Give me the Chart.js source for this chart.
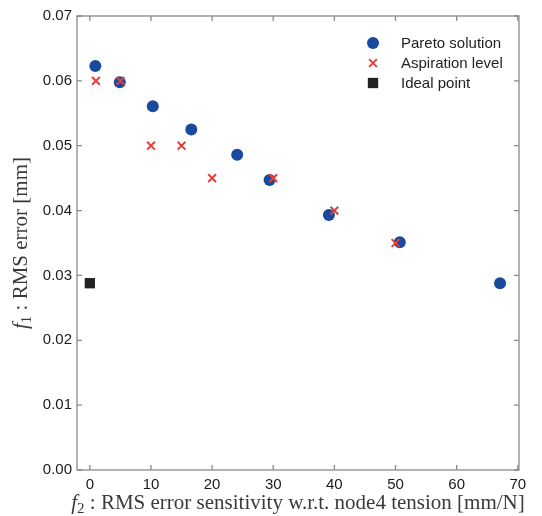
<!DOCTYPE html>
<html>
<head>
<meta charset="utf-8">
<script src="https://cdn.jsdelivr.net/npm/chart.js@4.4.1/dist/chart.umd.min.js"></script>
<style>
    html, body { margin: 0; padding: 0; background: #fff; }
    #wrap { width: 542px; height: 516px; }
</style>
</head>
<body>
<div id="wrap"><canvas id="pareto-chart" width="542" height="516"></canvas></div>
<script>
// --- Data ---
const paretoX = [0.9, 4.9, 10.3, 16.6, 24.1, 29.4, 39.1, 50.7, 67.1];
const paretoY = [0.0623, 0.0598, 0.0561, 0.0525, 0.0486, 0.0447, 0.0393, 0.0351, 0.0288];
const aspirationX = [1, 5, 10, 15, 20, 30, 40, 50];
const aspirationY = [0.060, 0.060, 0.050, 0.050, 0.045, 0.045, 0.040, 0.035];
const idealX = [0];
const idealY = [0.0288];
const xTicks = [0, 10, 20, 30, 40, 50, 60, 70];
const yTicks = [0, 0.01, 0.02, 0.03, 0.04, 0.05, 0.06, 0.07];
const seriesLabels = ['Pareto solution', 'Aspiration level', 'Ideal point'];

const toPoints = (xs, ys) => xs.map((x, i) => ({ x: x, y: ys[i] }));

const AXIS_COLOR = '#8a8a8a';
const SERIF = '"Liberation Serif", "DejaVu Serif", serif';
const SANS = '"Liberation Sans", Arial, sans-serif';

// --- Draws a label made of mixed segments (italic f, subscript, plain) centred at 0,0 ---
function drawMixed(ctx, segments, size) {
    const fonts = segments.map(s => (s.italic ? 'italic ' : '') + Math.round(size * (s.sub ? 0.7 : 1)) + 'px ' + SERIF);
    let total = 0;
    const widths = segments.map((s, i) => { ctx.font = fonts[i]; const w = ctx.measureText(s.text).width; total += w; return w; });
    let x = -total / 2;
    ctx.textBaseline = 'middle';
    ctx.textAlign = 'left';
    segments.forEach((s, i) => {
        ctx.font = fonts[i];
        ctx.fillText(s.text, x, s.sub ? size * 0.3 : 0);
        x += widths[i];
    });
}

// --- Frame, inward ticks, axis titles and legend ---
const framePlugin = {
    id: 'frame',
    afterDraw(chart) {
        const ctx = chart.ctx;
        const a = chart.chartArea;
        const xs = chart.scales.x, ys = chart.scales.y;
        ctx.save();
        ctx.strokeStyle = AXIS_COLOR;
        ctx.lineWidth = 1.3;
        ctx.strokeRect(a.left, a.top, a.right - a.left, a.bottom - a.top);
        ctx.beginPath();
        xTicks.forEach(v => {
            const px = xs.getPixelForValue(v);
            ctx.moveTo(px, a.bottom); ctx.lineTo(px, a.bottom - 5);
            ctx.moveTo(px, a.top); ctx.lineTo(px, a.top + 5);
        });
        yTicks.forEach(v => {
            const py = ys.getPixelForValue(v);
            ctx.moveTo(a.left, py); ctx.lineTo(a.left + 5, py);
            ctx.moveTo(a.right, py); ctx.lineTo(a.right - 5, py);
        });
        ctx.stroke();

        // axis titles
        ctx.fillStyle = '#3a3a3a';
        ctx.save();
        ctx.translate((a.left + a.right) / 2, 503);
        drawMixed(ctx, [
            { text: 'f', italic: true }, { text: '2', sub: true },
            { text: ' : RMS error sensitivity w.r.t. node4 tension [mm/N]' }
        ], 21);
        ctx.restore();
        ctx.save();
        ctx.translate(21, (a.top + a.bottom) / 2);
        ctx.rotate(-Math.PI / 2);
        drawMixed(ctx, [
            { text: 'f', italic: true }, { text: '1', sub: true },
            { text: ' : RMS error [mm]' }
        ], 21);
        ctx.restore();

        // legend
        chart.data.datasets.forEach((ds, i) => {
            const y = 43 + i * 20;
            ctx.fillStyle = ds.backgroundColor;
            ctx.strokeStyle = ds.borderColor;
            ctx.lineWidth = ds.borderWidth;
            Chart.helpers.drawPoint(ctx, {
                pointStyle: ds.pointStyle, radius: ds.pointRadius, borderWidth: ds.borderWidth, rotation: 0
            }, 373, y);
            ctx.font = '15px ' + SANS;
            ctx.textBaseline = 'middle';
            ctx.textAlign = 'left';
            ctx.fillStyle = '#222';
            ctx.fillText(ds.label, 401, y + 1);
        });
        ctx.restore();
    }
};

new Chart(document.getElementById('pareto-chart').getContext('2d'), {
    type: 'scatter',
    data: {
        datasets: [
            {
                label: seriesLabels[0],
                data: toPoints(paretoX, paretoY),
                pointStyle: 'circle', pointRadius: 6, borderWidth: 0,
                backgroundColor: '#1a4a9e', borderColor: '#1a4a9e', order: 2
            },
            {
                label: seriesLabels[1],
                data: toPoints(aspirationX, aspirationY),
                pointStyle: 'crossRot', pointRadius: 5.5, borderWidth: 2,
                backgroundColor: '#ea3d36', borderColor: '#ea3d36', order: 1
            },
            {
                label: seriesLabels[2],
                data: toPoints(idealX, idealY),
                pointStyle: 'rect', pointRadius: 7.3, borderWidth: 0,
                backgroundColor: '#222222', borderColor: '#222222', order: 0
            }
        ]
    },
    options: {
        responsive: false,
        animation: false,
        events: [],
        layout: { padding: { left: 0, right: 23, top: 16, bottom: 0 } },
        plugins: { legend: { display: false }, tooltip: { enabled: false } },
        scales: {
            x: {
                type: 'linear', min: -2.1, max: 70.2,
                afterBuildTicks: s => { s.ticks = xTicks.map(v => ({ value: v })); },
                afterFit: s => { s.height = 46; },
                grid: { display: false, drawTicks: false },
                border: { display: false },
                ticks: { color: '#1a1a1a', padding: 6, font: { family: SANS, size: 15 } }
            },
            y: {
                type: 'linear', min: 0, max: 0.07,
                afterBuildTicks: s => { s.ticks = yTicks.map(v => ({ value: v })); },
                afterFit: s => { s.width = 77; },
                grid: { display: false, drawTicks: false },
                border: { display: false },
                ticks: {
                    color: '#1a1a1a', padding: 5,
                    font: { family: SANS, size: 15 },
                    callback: v => v.toFixed(2)
                }
            }
        }
    },
    plugins: [framePlugin]
});
</script>
</body>
</html>
